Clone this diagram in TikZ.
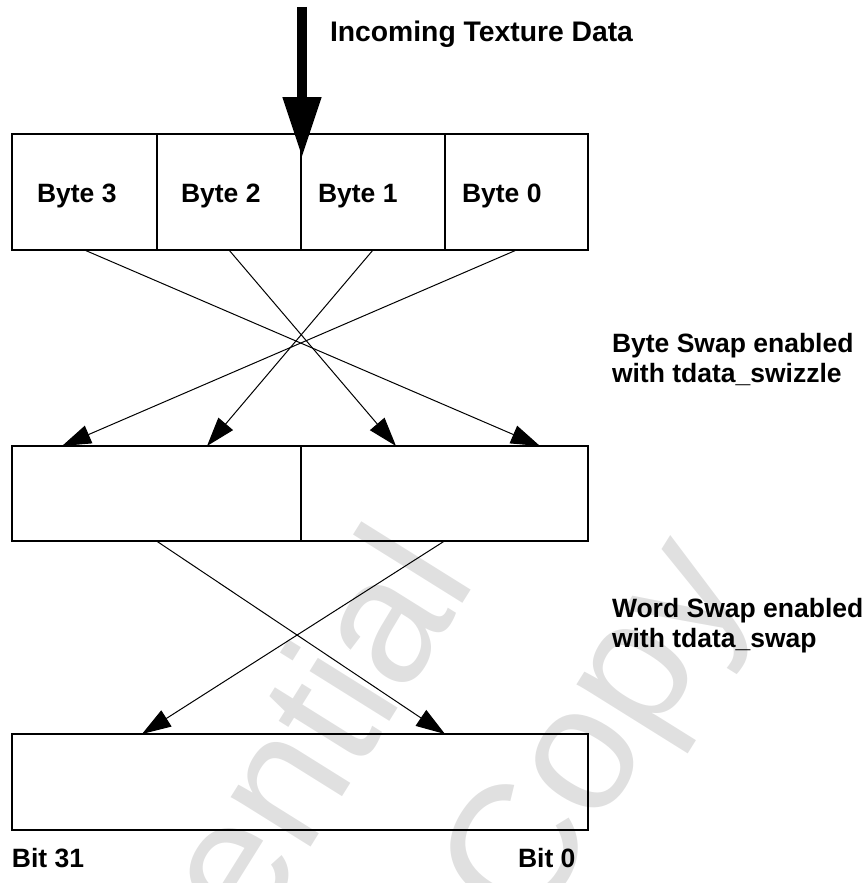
\documentclass[tikz,border=0pt]{standalone}
\usepackage{fontspec}
\setmainfont{Liberation Sans}
\usetikzlibrary{arrows.meta,calc}

\begin{document}
\begin{tikzpicture}[x=1pt,y=-1pt,
  cell/.style={draw, line width=2pt, inner sep=0pt, outer sep=0pt},
  lbl/.style={font=\bfseries\fontsize{26.5}{30}\selectfont, inner sep=0pt, outer sep=0pt},
  swapline/.style={line width=1pt, -{Triangle[length=29pt,width=19pt]}},
  feedline/.style={line width=10.6pt, -{Triangle[length=61pt,width=36pt]}},
  wmark/.style={font=\fontsize{178}{200}\selectfont, text=black!12, inner sep=0pt, rotate=58}
]
\useasboundingbox (0,0) rectangle (866,883);

% watermark behind everything
\begin{scope}
  \clip (0,0) rectangle (866,883);
  \node[wmark, anchor=base east] (wconf) at (478,580) {Confidential};
  \node[wmark, anchor=base west] (wcopy) at (530,938) {Copy};
\end{scope}

% byte register
\node[cell, minimum width=145pt, minimum height=116pt] (b3) at (84.5,192) {};
\node[cell, minimum width=144pt, minimum height=116pt] (b2) at (229,192) {};
\node[cell, minimum width=144pt, minimum height=116pt] (b1) at (373,192) {};
\node[cell, minimum width=143pt, minimum height=116pt] (b0) at (516.5,192) {};
\node[lbl, anchor=base west] (t3) at (37,202) {Byte 3};
\node[lbl, anchor=base west] (t2) at (181,202) {Byte 2};
\node[lbl, anchor=base west] (t1) at (318,202) {Byte 1};
\node[lbl, anchor=base west] (t0) at (462,202) {Byte 0};

% word register
\node[cell, minimum width=289pt, minimum height=95pt] (w1) at (156.5,493.5) {};
\node[cell, minimum width=287pt, minimum height=95pt] (w0) at (444.5,493.5) {};

% output register
\node[cell, minimum width=576pt, minimum height=96pt] (out) at (300,782) {};

% incoming data
\coordinate (feed) at (302,7);
\coordinate (feedtip) at (302,158);
\draw[feedline] (feed) -- (feedtip);
\node[lbl, font=\bfseries\fontsize{28.3}{30}\selectfont, anchor=base west] (incoming) at (330,42) {Incoming Texture Data};

% byte swap
\draw[swapline] (b3.south) -- ([xshift=239pt]w0.north west);
\draw[swapline] (b2.south) -- ([xshift=95pt]w0.north west);
\draw[swapline] (b1.south) -- ([xshift=195pt]w1.north west);
\draw[swapline] (b0.south) -- ([xshift=50pt]w1.north west);
\node[lbl, anchor=base west, align=left] (bswap) at (612,382) {Byte Swap enabled\\with tdata\_swizzle};

% word swap
\draw[swapline] (w1.south) -- ([xshift=433pt]out.north west);
\draw[swapline] (w0.south) -- ([xshift=130pt]out.north west);
\node[lbl, anchor=base west, align=left] (wswap) at (612,647) {Word Swap enabled\\with tdata\_swap};

% bit numbering
\node[lbl, anchor=base west] (bit31) at (12,867) {Bit 31};
\node[lbl, anchor=base west] (bit0) at (518,867) {Bit 0};
\end{tikzpicture}
\end{document}
